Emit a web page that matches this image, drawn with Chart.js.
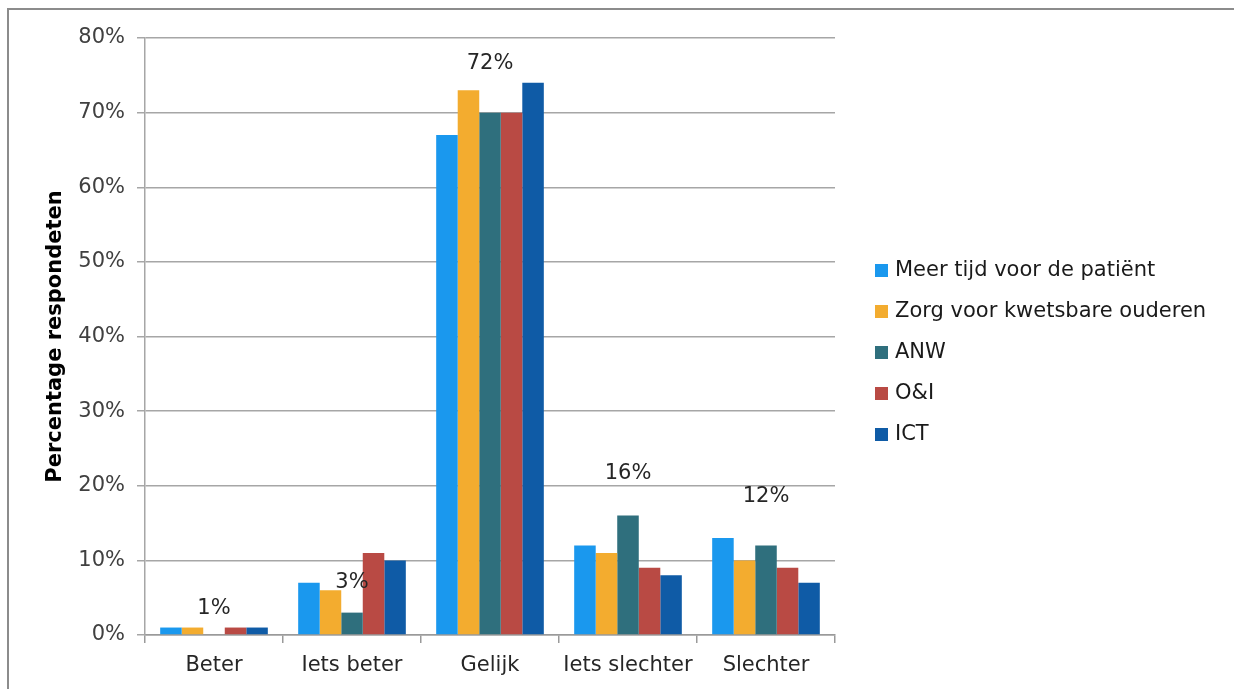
<!DOCTYPE html>
<html>
<head>
<meta charset="utf-8">
<script src="https://cdn.jsdelivr.net/npm/chart.js@4"></script>
<style>
    html, body { margin: 0; padding: 0; background: #fff; }
    #wrap { position: relative; width: 1234px; height: 689px; }
    #frame {
        position: absolute; left: 7px; top: 8px; right: 0; bottom: 0;
        border-top: 2px solid #8c8c8c; border-left: 2px solid #8c8c8c;
        pointer-events: none;
    }
    #legend {
        position: absolute; left: 875px; top: 255px;
        font-family: "DejaVu Sans", sans-serif; font-size: 21px; color: #1a1a1a;
    }
    #legend div { height: 41px; line-height: 28px; white-space: nowrap; }
    #legend span {
        display: inline-block; width: 13px; height: 13px; margin-right: 7px;
        vertical-align: -1px;
    }
</style>
</head>
<body>
<div id="wrap">
    <canvas id="chart" width="1234" height="689"></canvas>
    <div id="frame"></div>
    <div id="legend"></div>
</div>
<script>
// categories
const categories = ["Beter", "Iets beter", "Gelijk", "Iets slechter", "Slechter"];

// series (percent)
const seriesNames = ["Meer tijd voor de patiënt", "Zorg voor kwetsbare ouderen", "ANW", "O&I", "ICT"];
const meerTijd = [1, 7, 67, 12, 13];
const zorgOuderen = [1, 6, 73, 11, 10];
const anw = [0, 3, 70, 16, 12];
const oenI = [1, 11, 70, 9, 9];
const ict = [1, 10, 74, 8, 7];
const seriesColors = ["#1a98ee", "#f3ac2f", "#2f6f7d", "#b94a44", "#0f5ba6"];

// group labels shown above each category, and the level (in %) where they sit
const groupLabels = ["1%", "3%", "72%", "16%", "12%"];
const groupLabelLevels = [3.5, 7, 76.6, 21.7, 18.6];

// y ticks
const yMax = 80;
const yStep = 10;

const font = "DejaVu Sans";
const allSeries = [meerTijd, zorgOuderen, anw, oenI, ict];

// legend
let legend = document.getElementById("legend");
seriesNames.forEach((name, i) => {
    let row = document.createElement("div");
    let box = document.createElement("span");
    box.style.background = seriesColors[i];
    row.appendChild(box);
    row.appendChild(document.createTextNode(name));
    legend.appendChild(row);
});

const groupLabelPlugin = {
    id: "groupLabels",
    afterDatasetsDraw(chart) {
        let ctx = chart.ctx;
        let x = chart.scales.x;
        let y = chart.scales.y;
        ctx.save();
        ctx.font = "21px '" + font + "'";
        ctx.fillStyle = "#262626";
        ctx.textAlign = "center";
        ctx.textBaseline = "middle";
        groupLabels.forEach((label, i) => {
            ctx.fillText(label, x.getPixelForValue(i), y.getPixelForValue(groupLabelLevels[i]));
        });
        ctx.restore();
    }
};

new Chart(document.getElementById("chart"), {
    type: "bar",
    data: {
        labels: categories,
        datasets: allSeries.map((values, i) => ({
            label: seriesNames[i],
            data: values,
            backgroundColor: seriesColors[i],
            borderWidth: 0,
            categoryPercentage: 0.78,
            barPercentage: 1
        }))
    },
    options: {
        responsive: false,
        animation: false,
        layout: { padding: { top: 38, right: 399, left: 43, bottom: 0 } },
        plugins: {
            legend: { display: false },
            tooltip: { enabled: false }
        },
        scales: {
            x: {
                grid: {
                    drawOnChartArea: false,
                    drawTicks: true,
                    tickLength: 8,
                    color: "#9a9a9a",
                    lineWidth: 1.5
                },
                border: { color: "#9a9a9a", width: 1.5 },
                ticks: {
                    color: "#262626",
                    font: { family: font, size: 21 },
                    padding: 10
                },
                afterFit(scale) { scale.height = 54; }
            },
            y: {
                min: 0,
                max: yMax,
                ticks: {
                    stepSize: yStep,
                    color: "#404040",
                    font: { family: font, size: 21 },
                    padding: 12,
                    callback: (v) => v + "%"
                },
                grid: {
                    color: "#a6a6a6",
                    lineWidth: 1.5,
                    tickLength: 8
                },
                border: { color: "#a6a6a6", width: 1.5 },
                title: {
                    display: true,
                    text: "Percentage respondeten",
                    color: "#000",
                    font: { family: font, size: 21, weight: "bold" },
                    padding: { top: 0, bottom: 0 }
                },
                afterFit(scale) { scale.width = 102; }
            }
        }
    },
    plugins: [groupLabelPlugin]
});
</script>
</body>
</html>
